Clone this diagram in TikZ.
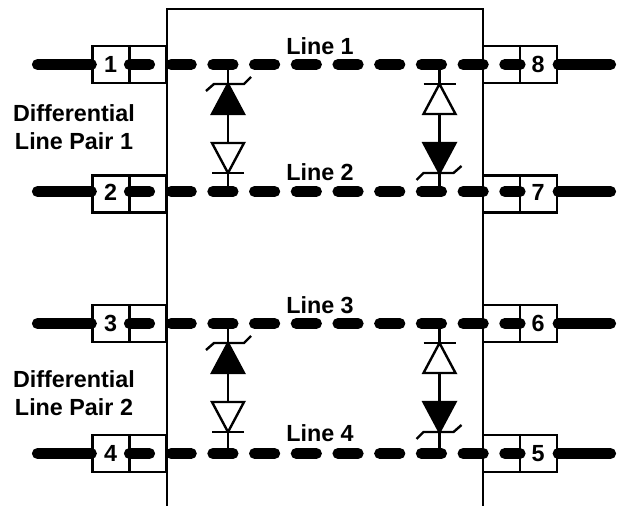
\documentclass[tikz,border=0pt]{standalone}
\usepackage{fontspec}
\setmainfont{Liberation Sans}
\tikzset{
	thin line/.style={line width=1.8pt},
	pinbox/.style={draw, thin line, minimum width=55.5pt, minimum height=27.75pt, inner sep=0pt},
	txt/.style={inner sep=0pt, font=\fontsize{17.5}{21}\selectfont\bfseries, align=center},
	lead/.style={line width=8.4pt, line cap=round},
	bus/.style={line width=8.4pt, line cap=round, dash pattern=on 15pt off 16.28pt},
	tvs/.pic={
		\draw[thin line, fill=black] (0,0) -- (16,30) -- (-16,30) -- cycle;
		\draw[thin line] (-22,7) -- (-14,0) -- (16,0) -- (23,-7);
	},
	plain/.pic={
		\draw[thin line, fill=white] (0,0) -- (16,30) -- (-16,30) -- cycle;
		\draw[thin line] (-16,0) -- (16,0);
	}
}
\begin{document}
\begin{tikzpicture}[x=0.75pt, y=-0.75pt]
		\useasboundingbox (0,0) rectangle (622,506);

		% chip outline
		\coordinate (chipa) at (167,506);
		\coordinate (chipb) at (167,9);
		\coordinate (chipc) at (483,9);
		\coordinate (chipd) at (483,506);
		\draw[thin line] (chipa) -- (chipb) -- (chipc) -- (chipd);

		% pins
		\node[pinbox] at (129.5,64.5) (box1) {};
		\node[pinbox] at (129.5,194) (box2) {};
		\node[pinbox] at (129.5,323.5) (box3) {};
		\node[pinbox] at (129.5,453.5) (box4) {};
		\node[pinbox] at (520,453.5) (box5) {};
		\node[pinbox] at (520,323.5) (box6) {};
		\node[pinbox] at (520,194) (box7) {};
		\node[pinbox] at (520,64.5) (box8) {};

		\draw[thin line] (box1.north) -- (box1.south);
		\draw[thin line] (box2.north) -- (box2.south);
		\draw[thin line] (box3.north) -- (box3.south);
		\draw[thin line] (box4.north) -- (box4.south);
		\draw[thin line] (box5.north) -- (box5.south);
		\draw[thin line] (box6.north) -- (box6.south);
		\draw[thin line] (box7.north) -- (box7.south);
		\draw[thin line] (box8.north) -- (box8.south);

		\node[txt] at (110.5,64.5) (num1) {1};
		\node[txt] at (110.5,192) (num2) {2};
		\node[txt] at (110.5,323.5) (num3) {3};
		\node[txt] at (110.5,453.5) (num4) {4};
		\node[txt] at (538,453.5) (num5) {5};
		\node[txt] at (538,323.5) (num6) {6};
		\node[txt] at (538,192) (num7) {7};
		\node[txt] at (538,64.5) (num8) {8};

		% outer leads
		\coordinate (lead1) at (37.5,64.5);
		\coordinate (lead2) at (37.5,191.5);
		\coordinate (lead3) at (37.5,323.5);
		\coordinate (lead4) at (37.5,453.5);
		\coordinate (lead5) at (610.5,453.5);
		\coordinate (lead6) at (610.5,323.5);
		\coordinate (lead7) at (610.5,191.5);
		\coordinate (lead8) at (610.5,64.5);

		\draw[lead] (lead1) -- (lead1 -| box1.west);
		\draw[lead] (lead2) -- (lead2 -| box2.west);
		\draw[lead] (lead3) -- (lead3 -| box3.west);
		\draw[lead] (lead4) -- (lead4 -| box4.west);
		\draw[lead] (lead5) -- (lead5 -| box5.east);
		\draw[lead] (lead6) -- (lead6 -| box6.east);
		\draw[lead] (lead7) -- (lead7 -| box7.east);
		\draw[lead] (lead8) -- (lead8 -| box8.east);

		% dashed lines through the chip
		\draw[bus] (box1.center) -- (box8.center);
		\draw[bus] (lead2 -| box2) -- (lead7 -| box7);
		\draw[bus] (box3.center) -- (box6.center);
		\draw[bus] (box4.center) -- (box5.center);

		\node[txt] at (320,46) (line1) {Line 1};
		\node[txt] at (320,172.5) (line2) {Line 2};
		\node[txt] at (320,305) (line3) {Line 3};
		\node[txt] at (320,433.5) (line4) {Line 4};
		\node[txt] at (74,127) (pair1) {Differential\\Line Pair 1};
		\node[txt] at (74,393) (pair2) {Differential\\Line Pair 2};

		% diodes
		\coordinate (tapa) at (228,64.5);
		\coordinate (tapb) at (228,191.5);
		\coordinate (tapc) at (439.5,64.5);
		\coordinate (tapd) at (439.5,191.5);
		\coordinate (tape) at (228,323.5);
		\coordinate (tapf) at (228,453.5);
		\coordinate (tapg) at (439.5,323.5);
		\coordinate (taph) at (439.5,453.5);

		\draw[thin line] (tapa) -- (tapb);
		\draw[thin line] (tapc) -- (tapd);
		\draw[thin line] (tape) -- (tapf);
		\draw[thin line] (tapg) -- (taph);

		\pic at (228,84) {tvs};
		\pic[rotate=180] at (228,173) {plain};
		\pic at (439.5,84) {plain};
		\pic[rotate=180] at (439.5,173) {tvs};
		\pic at (228,343) {tvs};
		\pic[rotate=180] at (228,432) {plain};
		\pic at (439.5,343) {plain};
		\pic[rotate=180] at (439.5,432) {tvs};
	\end{tikzpicture}
\end{document}
